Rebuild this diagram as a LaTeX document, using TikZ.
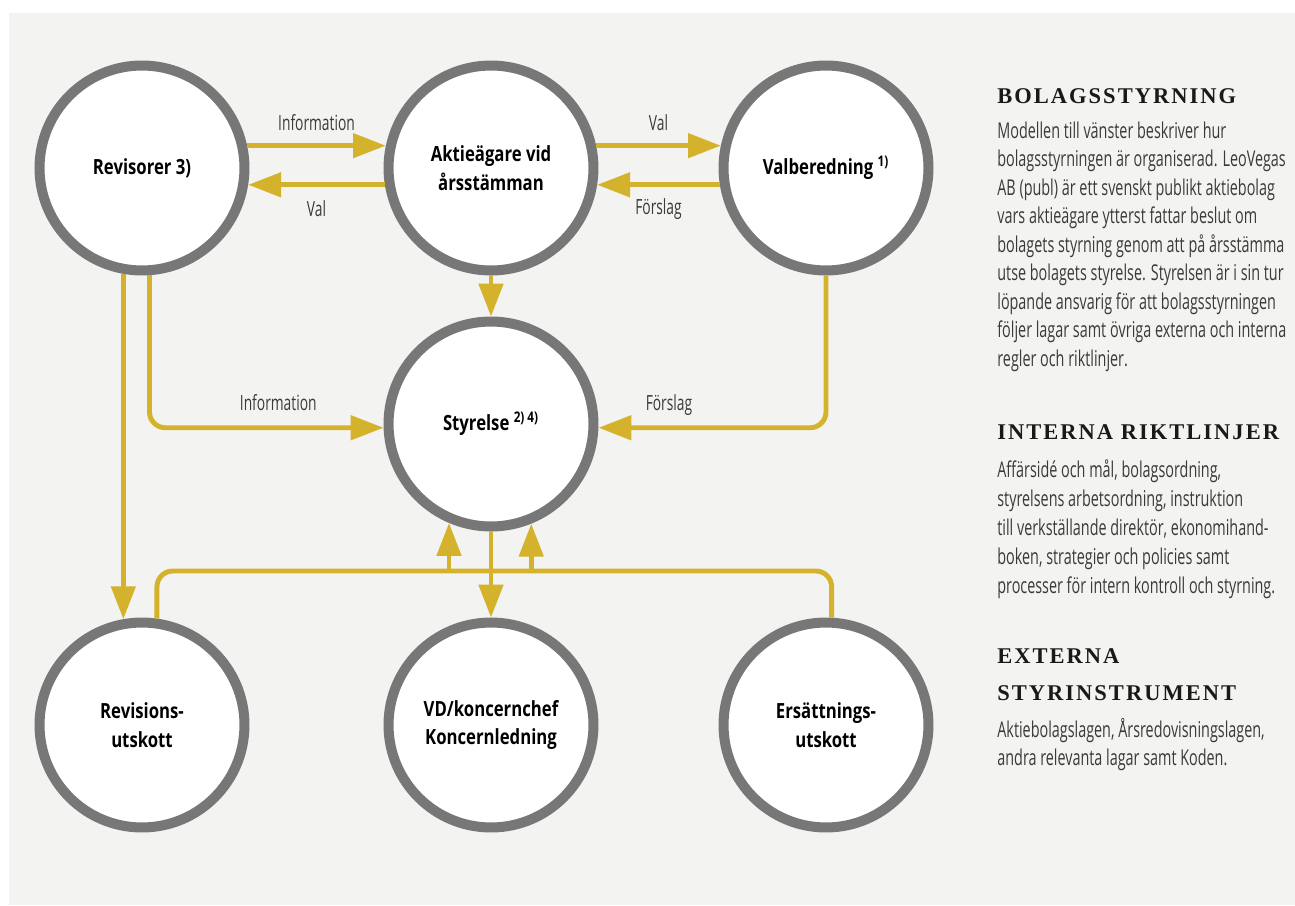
\documentclass[tikz,border=0pt]{standalone}
\usepackage{fontspec}
\setmainfont{Open Sans}
\newfontfamily\condfont{Open Sans}[FakeStretch=0.66]
\newfontfamily\boxfont{Open Sans}[FakeStretch=0.8]
\newfontfamily\headfont{Liberation Serif}[LetterSpace=9]
\usetikzlibrary{positioning, arrows.meta, calc}

\definecolor{gold}{HTML}{D4B22B}
\definecolor{ring}{HTML}{777777}
\definecolor{paper}{HTML}{F3F3F1}
\definecolor{ink}{HTML}{3A3A3A}

\begin{document}
\begin{tikzpicture}[
        x=0.02cm, y=-0.02cm,
        >={Triangle[length=18.7pt, width=13.6pt]},
        organ/.style={circle, draw=ring, line width=5.7pt, fill=white, minimum size=4.1cm, inner sep=0pt, align=center, font=\boxfont\bfseries\fontsize{11.9}{16.4}\selectfont},
        flow/.style={draw=gold, line width=2.8pt, ->},
        bus/.style={draw=gold, line width=2.8pt, rounded corners=9pt},
        flowlabel/.style={font=\condfont\fontsize{11.9}{14}\selectfont, text=ink, inner sep=0pt, anchor=base},
        heading/.style={font=\headfont\bfseries\fontsize{12.8}{14}\selectfont, text=black!90, inner sep=0pt, anchor=base west},
        bodyline/.style={font=\condfont\fontsize{12.4}{14}\selectfont, text=ink, inner sep=0pt, anchor=base west},
    ]

        % Page and background
        \useasboundingbox (0,0) rectangle (1295,906);
        \fill[paper] (9,13) rectangle (1295,905);

        % Draw the organs
        \node[organ] (rev) at (142,168) {Revisorer 3)};
        \node[organ] (akt) at (491,168) {Aktieägare vid\\årsstämman};
        \node[organ] (val) at (826,168) {Valberedning \textsuperscript{1)}};
        \node[organ] (sty) at (491,424) {Styrelse \textsuperscript{2) 4)}};
        \node[organ] (revu) at (142,725) {Revisions-\\utskott};
        \node[organ] (vd) at (491,725) {VD/koncernchef\\Koncernledning};
        \node[organ] (ers) at (826,725) {Ersättnings-\\utskott};

        % Connect the top row
        \draw[flow] (rev.12) -- (akt.168) node[flowlabel, midway, yshift=8.5pt] {Information};
        \draw[flow] (akt.-171) -- (rev.-9) node[flowlabel, midway, yshift=-18pt] {Val};
        \draw[flow] (akt.12) -- (val.168) node[flowlabel, midway, yshift=8.5pt] {Val};
        \draw[flow] (val.-171) -- (akt.-9) node[flowlabel, midway, yshift=-17pt] {Förslag};

        % Connect down to the board
        \draw[flow] (akt) -- (sty);
        \draw[flow, rounded corners=9pt] (rev.-86) |- (sty.182) node[flowlabel, pos=0.775, yshift=10pt] {Information};
        \draw[flow, rounded corners=9pt] (val.-90) |- (sty.-2) node[flowlabel, pos=0.845, yshift=9.6pt] {Förslag};
        \draw[flow] (rev.-100) -- (revu.100);
        \draw[flow] (sty) -- (vd);

        % Committees report to the board
        \coordinate (link) at (491,571);
        \draw[bus] (revu.82) |- (link) -| (ers.87);
        \foreach \a in {-113,-68}
            \draw[flow] (sty.\a |- link) -- (sty.\a);

        % Text to the right
        \node[heading] (h-bolag) at (997,103.5) {BOLAGSSTYRNING};
        \foreach \txt [count=\i from 0] in {
            {Modellen till vänster beskriver hur},
            {bolagsstyrningen är organiserad. LeoVegas},
            {AB (publ) är ett svenskt publikt aktiebolag},
            {vars aktieägare ytterst fattar beslut om},
            {bolagets styrning genom att på årsstämma},
            {utse bolagets styrelse. Styrelsen är i sin tur},
            {löpande ansvarig för att bolagsstyrningen},
            {följer lagar samt övriga externa och interna},
            {regler och riktlinjer.}}
            \node[bodyline] (bolag-\i) at (997,138+28.5*\i) {\txt};

        \node[heading] (h-intern) at (997,439) {INTERNA RIKTLINJER};
        \foreach \txt [count=\i from 0] in {
            {Affärsidé och mål, bolagsordning,},
            {styrelsens arbetsordning, instruktion},
            {till verkställande direktör, ekonomihand-},
            {boken, strategier och policies samt},
            {processer för intern kontroll och styrning.}}
            \node[bodyline] (intern-\i) at (997,477+29*\i) {\txt};

        \node[heading] (h-extern) at (997,663) {EXTERNA};
        \node[heading] (h-styr) at (997,700) {STYRINSTRUMENT};
        \foreach \txt [count=\i from 0] in {
            {Aktiebolagslagen, Årsredovisningslagen,},
            {andra relevanta lagar samt Koden.}}
            \node[bodyline] (extern-\i) at (997,737+28*\i) {\txt};
\end{tikzpicture}
\end{document}
